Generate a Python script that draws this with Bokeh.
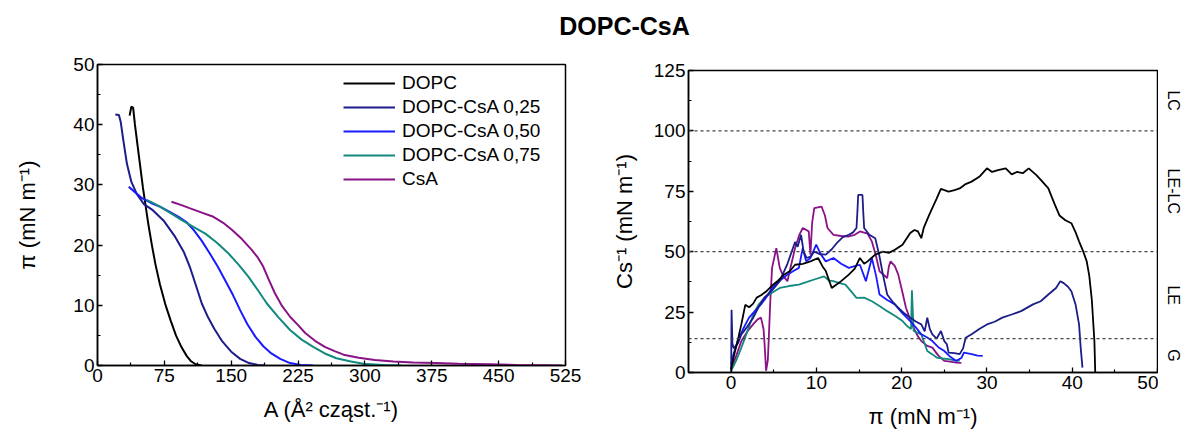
import math
from bokeh.plotting import figure
from bokeh.models import FixedTicker, Span, Label, Legend, LegendItem, Range1d
from bokeh.layouts import column, row
from bokeh.embed import file_html
from bokeh.resources import INLINE
from bokeh.core.properties import value

# ---------------- data: left panel (isotherms, A vs pi) ----------------
series_names = ["DOPC", "DOPC-CsA 0,25", "DOPC-CsA 0,50", "DOPC-CsA 0,75", "CsA"]
series_colors = ["#000000", "#1c1c8a", "#1a1aff", "#13897e", "#8a1287"]

dopc_A = [36, 38, 40, 42, 45, 48, 51, 54, 57, 61, 65, 70, 76, 82, 88, 94, 100, 105, 110, 117]
dopc_pi = [41.5, 43, 42.8, 40, 36.5, 33, 29.5, 26.5, 23.5, 20, 16.8, 13.5, 10.2, 7.5, 5, 3.1, 1.6, 0.7, 0.2, 0]

c25_A = [20, 24, 26, 29, 33, 38, 44, 52, 62, 74, 87, 97, 104, 110, 117, 124, 131, 140, 150, 160, 170, 180, 188]
c25_pi = [41.7, 41.6, 40.5, 37.4, 33.5, 30.5, 28.5, 26.8, 25.8, 24.1, 21.4, 18.8, 16.2, 13.5, 10.3, 8, 6.1, 4, 2.3, 1.1, 0.4, 0.1, 0]

c50_A = [35, 42, 50, 60, 70, 80, 91, 100, 108, 117, 126, 135, 143, 152, 160, 168, 177, 186, 195, 205, 216, 228, 242]
c50_pi = [29.7, 28.8, 27.8, 27, 26.4, 25.6, 24.7, 23.8, 22.5, 20.7, 18.6, 16.4, 14.2, 11.7, 9.2, 6.9, 4.8, 3.2, 2, 1.1, 0.4, 0.1, 0]

c75_A = [55, 62, 70, 82, 95, 108, 121, 134, 147, 158, 169, 180, 190, 203, 216, 229, 242, 255, 268, 283, 298, 320, 341]
c75_pi = [27.5, 27, 26.4, 25.3, 24.1, 23, 21.9, 20.4, 18.6, 16.8, 14.8, 12.5, 10.3, 8, 5.9, 4.3, 3.1, 2, 1.2, 0.7, 0.3, 0.1, 0]

csa_A = [83, 95, 104, 117, 130, 141, 151, 162, 173, 180, 186, 192, 199, 207, 216, 225, 233, 244, 255, 266,
         276, 293, 311, 332, 354, 380, 405, 440, 470, 500, 521]
csa_pi = [27.2, 26.6, 26.1, 25.4, 24.7, 23.7, 22.5, 21, 19.2, 17.9, 16.4, 14.3, 12, 9.9, 8.1, 6.7, 5.4, 4.1, 3.1, 2.4,
          1.8, 1.3, 0.9, 0.65, 0.5, 0.4, 0.3, 0.2, 0.1, 0.05, 0]

# ---------------- data: right panel (compressibility modulus vs pi) ----------------
dopc_cs_pi = [0, 0.4, 0.76, 1.2, 1.66, 2.1, 2.56, 3.0, 3.5, 4.1,
              4.8, 5.5, 6.2, 6.9, 7.5, 8.4, 9.3, 10.2, 10.7, 11.1,
              11.8, 12.4, 12.9, 13.8, 14.5, 15.1, 15.6, 16.0, 16.9, 17.8,
              18.5, 19.2, 20.1, 21.0, 21.5, 21.9, 22.3, 22.6, 23.2, 24.1,
              24.6, 25.5, 26.2, 26.8, 27.5, 28.2, 29.1, 30.0, 30.6, 31.3,
              32.2, 32.9, 33.5, 34.2, 34.9, 35.8, 36.5, 37.2, 37.9, 38.5,
              39.2, 39.9, 40.4, 40.8, 41.3, 41.7, 42.0, 42.3, 42.6, 42.7]
dopc_cs = [1.4, 8, 13, 20, 28, 27, 28.4, 31, 32, 33.5,
           36, 38, 40.5, 42, 44.6, 45, 46, 47.4, 44, 42,
           35, 36.5, 37.8, 40.5, 43, 47.4, 45, 46, 48.8, 50,
           49.5, 50.8, 52.9, 57.7, 59, 58.4, 55.6, 60, 65, 72,
           76, 74.9, 75.5, 76.2, 78, 79, 81, 84.5, 83, 83.8,
           84.5, 82, 83, 82.5, 84.5, 81.7, 79, 76.2, 70, 65,
           63, 61.8, 58, 54.3, 50, 46, 40, 30, 13, 0]

c25_cs_pi = [0, 0.05, 0.15, 0.3, 0.8, 1.2, 1.9, 2.6, 3.2, 3.9,
             4.8, 5.7, 6.6, 7.5, 7.8, 8.2, 8.5, 8.85, 9.3, 9.75,
             10.4, 11.1, 11.8, 12.5, 13.1, 13.8, 14.3, 14.7, 14.8, 14.9,
             15.4, 15.5, 15.6, 16.2, 16.9, 17.4, 17.8, 18.3, 19.0, 19.6,
             20.3, 21.0, 21.7, 22.3, 22.7, 23.0, 23.3, 23.6, 24.1, 24.6,
             25.0, 25.3, 25.5, 26.2, 26.8, 27.2, 27.5, 28.2, 29.1, 30.0,
             30.9, 31.8, 32.9, 34.0, 35.4, 36.3, 37.2, 38.1, 38.6, 39.0,
             39.5, 39.9, 40.4, 40.8, 41.0, 41.2]
c25_cs = [0, 26, 12, 10, 12, 15.8, 19, 22.7, 27, 31,
          34, 37.8, 45, 54, 52, 57, 50, 47.4, 48, 50,
          49, 48.8, 51, 54, 56, 57, 58, 59.8, 66, 73.5,
          73.5, 66, 59.8, 57, 55.6, 48, 40.5, 32.3, 29, 26.8,
          24.5, 22.7, 21, 19.9, 17, 22.7, 18, 15.8, 14, 17.2,
          13, 11.7, 8.2, 8, 7.6, 10, 14.4, 15.8, 18, 19.9,
          21, 22.7, 24, 25.4, 28.2, 29.5, 32.3, 35, 37.8, 37,
          35.5, 33.6, 28, 19.9, 10, 2]

c50_cs_pi = [0, 0.3, 0.76, 1.4, 2.1, 2.8, 3.5, 4.1, 4.8, 5.7,
             6.6, 7.3, 7.95, 8.2, 8.4, 8.8, 9.3, 9.98, 10.5, 11.1,
             12.0, 12.9, 13.8, 14.5, 15.1, 15.8, 16.5, 17.0, 17.4, 18.3,
             19.2, 20.1, 21.0, 21.7, 22.3, 23.0, 23.6, 24.3, 25.0, 25.7,
             26.4, 27.0, 27.3, 28.2, 28.9, 29.5]
c50_cs = [3.4, 8, 13, 18, 22.7, 25.5, 28.2, 31, 35, 38,
          40.5, 42, 43.3, 48, 51.5, 46, 47.4, 52.9, 49, 46,
          47.4, 45, 43.3, 44, 44.6, 37.8, 47.4, 40, 32.3, 30,
          28.2, 24.5, 21.3, 18.5, 15.8, 14.5, 13, 10.5, 8.9, 6.5,
          4.8, 6, 8.2, 7.6, 7, 6.9]

c75_cs_pi = [0, 0.6, 1.2, 1.9, 2.6, 3.2, 3.9, 4.8, 5.7, 6.8,
             7.95, 8.9, 9.75, 10.9, 11.5, 12.0, 12.7, 13.4, 14.1, 14.7,
             15.6, 16.5, 17.4, 18.3, 19.2, 20.1, 20.7, 21.1, 21.2, 21.4,
             22.3, 23.0, 23.6, 24.1, 24.8, 25.5, 26.2, 26.8]
c75_cs = [0.7, 5, 10.3, 17, 24, 28, 30.9, 33, 35, 35.8,
          36.4, 37.5, 38.5, 39.8, 38, 37.8, 37, 36.4, 33.5, 30.9,
          31, 29.5, 27.5, 25.4, 23.5, 21.3, 19, 18, 34, 17.2,
          15.8, 8.9, 7.5, 6.2, 5.8, 5.5, 5, 4.8]

csa_cs_pi = [0, 0.6, 1.2, 1.9, 2.6, 3.1, 3.5, 3.8, 3.9, 4.1,
             4.3, 4.4, 4.6, 4.8, 5.3, 5.7, 6.1, 6.6, 7.0, 7.5,
             8.0, 8.4, 9.1, 9.3, 9.5, 9.75, 10.6, 11.0, 11.3, 12.0,
             12.9, 13.8, 14.5, 15.1, 16.0, 16.5, 17.0, 17.4, 18.3, 18.5,
             18.7, 19.2, 19.6, 20.1, 20.5, 21.0, 21.4, 21.9, 22.3, 23.0,
             23.6, 24.3, 25.0, 25.7, 26.4, 27.0]
csa_cs = [1.4, 7, 13, 17, 20, 22, 22.7, 18, 13, 0.7,
          5, 13, 30, 43.3, 51.5, 43.3, 40, 37.8, 44, 51.5,
          57, 59.8, 58.4, 48.8, 62, 68, 68.7, 65, 59.8, 57,
          56.5, 56.3, 57, 58.4, 57.5, 54.3, 48, 41.9, 39.1, 44,
          46, 44, 40.5, 33, 26.8, 22, 18.5, 15, 13, 11,
          10.3, 7, 4.8, 4.5, 4.1, 4]

# phase boundaries (Cs^-1) and region names
phase_bounds = [0, 14, 50, 100, 125]
phase_names = ["G", "LE", "LE-LC", "LC"]

left_xticks = [0, 75, 150, 225, 300, 375, 450, 525]
left_yticks = [0, 10, 20, 30, 40, 50]
right_xticks = [0, 10, 20, 30, 40, 50]
right_yticks = [0, 25, 50, 75, 100, 125]

FONT = "Liberation Sans"


def minor_of(ticks):
    step = ticks[1] - ticks[0]
    return [t + step / 2 for t in ticks[:-1]]


def style(p):
    p.outline_line_color = "black"
    p.outline_line_width = 1.5
    p.outline_line_alpha = 1
    p.grid.visible = False
    p.background_fill_color = "white"
    p.border_fill_color = "white"
    for ax in p.axis:
        ax.axis_line_width = 1.5
        ax.axis_line_color = "black"
        ax.major_tick_in = 5
        ax.major_tick_out = 0
        ax.minor_tick_in = 3
        ax.minor_tick_out = 0
        ax.major_tick_line_width = 1.3
        ax.minor_tick_line_width = 1.2
        ax.major_label_text_font = FONT
        ax.major_label_text_font_size = "19px"
        ax.major_label_text_color = "black"
        ax.axis_label_text_font = FONT
        ax.axis_label_text_font_size = "22px"
        ax.axis_label_text_font_style = "normal"
        ax.axis_label_text_color = "black"
        ax.major_label_standoff = 3


# ---------------- title strip ----------------
tf = figure(width=1184, height=50, x_range=Range1d(0, 1184), y_range=Range1d(0, 50),
            output_backend="svg", toolbar_location=None, x_axis_type=None, y_axis_type=None,
            min_border=0, title_location=None)
tf.outline_line_color = None
tf.grid.visible = False
tf.add_layout(Label(x=624, y=25, text="DOPC-CsA", text_font=FONT, text_font_size="25px",
                    text_font_style="bold", text_align="center", text_baseline="middle",
                    text_color="black"))

# ---------------- left panel ----------------
p1 = figure(width=600, height=384, x_range=Range1d(0, 525), y_range=Range1d(0, 50),
            output_backend="svg", toolbar_location=None, title_location=None,
            min_border_left=97, min_border_right=35, min_border_top=14, min_border_bottom=69)
p1.frame_align = False
style(p1)
p1.xaxis.ticker = FixedTicker(ticks=left_xticks, minor_ticks=minor_of(left_xticks))
p1.yaxis.ticker = FixedTicker(ticks=left_yticks, minor_ticks=minor_of(left_yticks))
p1.xaxis.axis_label = "A (Å² cząst.⁻¹)"
p1.yaxis.axis_label = "π (mN m⁻¹)"
p1.xaxis.axis_label_standoff = 12
p1.yaxis.axis_label_standoff = 30

left_data = [(dopc_A, dopc_pi), (c25_A, c25_pi), (c50_A, c50_pi), (c75_A, c75_pi), (csa_A, csa_pi)]
items = []
for (xs, ys), name, col in zip(left_data, series_names, series_colors):
    r = p1.line(xs, ys, line_color=col, line_width=2)
    items.append(LegendItem(label=name, renderers=[r]))
leg = Legend(items=items, location=(246, 174), orientation="vertical")
leg.border_line_alpha = 0
leg.background_fill_alpha = 0
leg.margin = 0
leg.padding = 0
leg.spacing = 0
leg.label_height = 24
leg.glyph_height = 24
leg.glyph_width = 52
leg.label_standoff = 7
leg.label_text_font = FONT
leg.label_text_font_size = "19px"
leg.label_text_color = "black"
p1.add_layout(leg)

# ---------------- right panel ----------------
p2 = figure(width=558, height=384, x_range=Range1d(-5, 50), y_range=Range1d(0, 125),
            output_backend="svg", toolbar_location=None, title_location=None,
            min_border_left=88, min_border_right=1, min_border_top=20, min_border_bottom=62)
p2.frame_align = False
style(p2)
p2.xaxis.ticker = FixedTicker(ticks=right_xticks, minor_ticks=minor_of(right_xticks))
p2.yaxis.ticker = FixedTicker(ticks=right_yticks, minor_ticks=minor_of(right_yticks))
p2.xaxis.axis_label = "π (mN m⁻¹)"
p2.yaxis.axis_label = "Cs⁻¹ (mN m⁻¹)"
p2.xaxis.axis_label_standoff = 12
p2.yaxis.axis_label_standoff = 14

for b in phase_bounds[1:-1]:
    p2.add_layout(Span(location=b, dimension="width", line_color="#444444",
                       line_width=1.2, line_dash="3 3"))

right_data = [(dopc_cs_pi, dopc_cs), (c25_cs_pi, c25_cs), (c50_cs_pi, c50_cs),
              (c75_cs_pi, c75_cs), (csa_cs_pi, csa_cs)]
draw_order = [4, 3, 2, 1, 0]
for i in draw_order:
    xs, ys = right_data[i]
    p2.line(xs, ys, line_color=series_colors[i], line_width=1.8)

# ---------------- phase-name strip to the right of the right panel ----------------
mids = [(lo + hi) / 2 for lo, hi in zip(phase_bounds[:-1], phase_bounds[1:])]
p3 = figure(width=26, height=384, x_range=Range1d(0, 26), y_range=p2.y_range,
            output_backend="svg", toolbar_location=None, title_location=None,
            x_axis_type=None, y_axis_type=None,
            min_border_left=0, min_border_right=0, min_border_top=20, min_border_bottom=62)
p3.frame_align = False
p3.outline_line_color = None
p3.grid.visible = False
p3.text(x=[15] * len(mids), y=mids, text=phase_names, angle=-math.pi / 2,
        text_align="center", text_baseline="middle", text_font=value(FONT),
        text_font_size="16px", text_color="black")

layout = column(tf, row(p1, p2, p3, spacing=0), spacing=0)
open("out.html", "w").write(file_html(layout, INLINE))
